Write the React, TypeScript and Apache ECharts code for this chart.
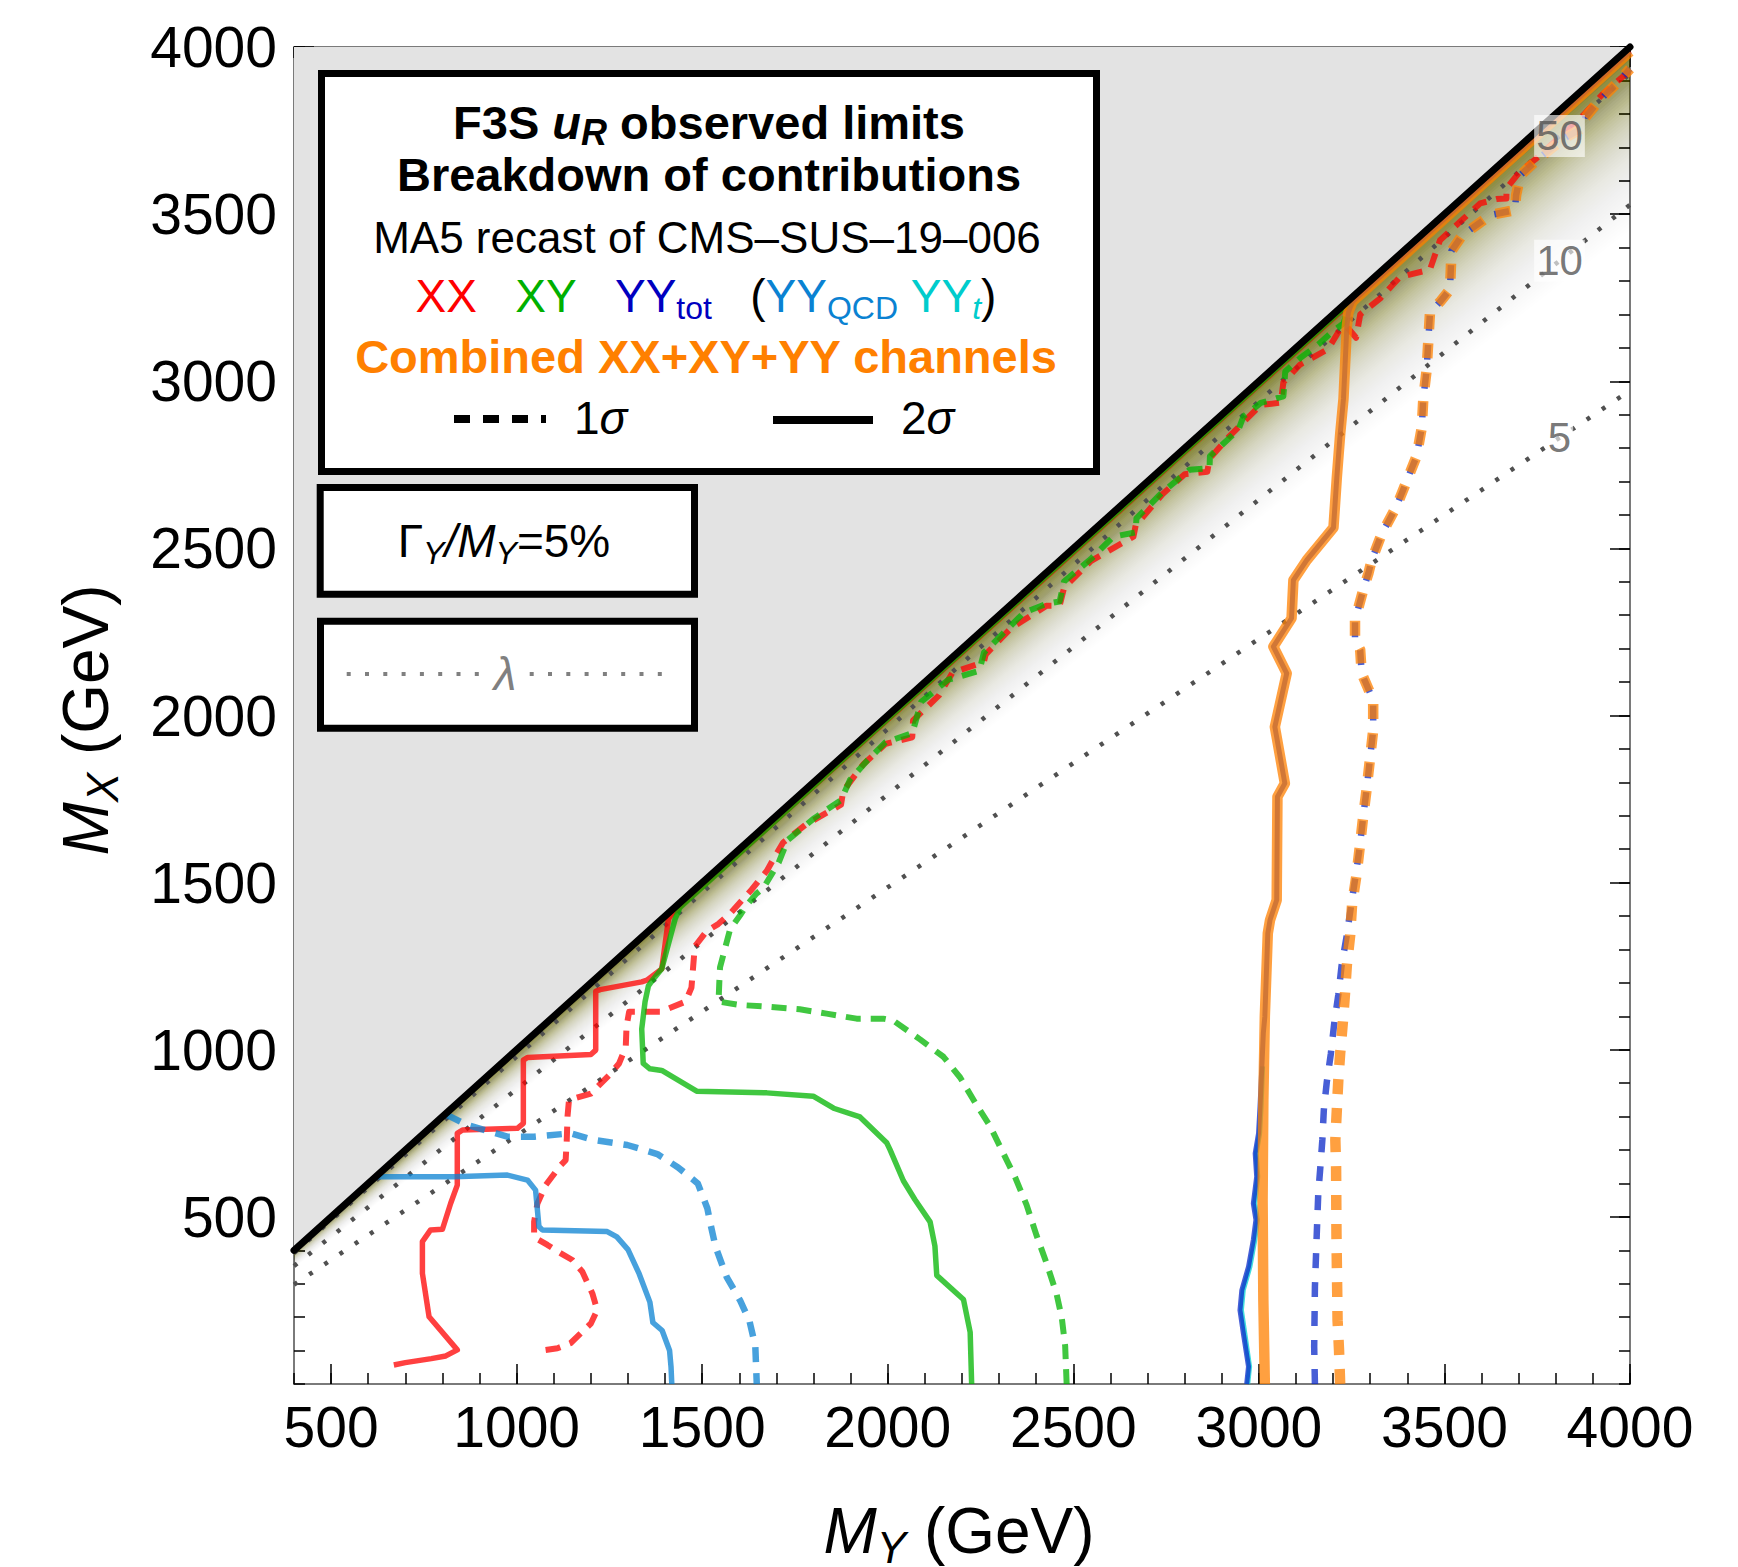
import React, { useEffect, useRef } from "react";
import * as echarts from "echarts";

const FONT = "Liberation Sans";

// ---------- axes ----------
const xMajorTicks = [500, 1000, 1500, 2000, 2500, 3000, 3500, 4000];
const yMajorTicks = [500, 1000, 1500, 2000, 2500, 3000, 3500, 4000];

// ---------- lambda contours (M_X = r * M_Y) ----------
const lambdaNames = ["50", "10", "5"];
const lambdaRatios = [0.98, 0.882, 0.743];
const lambdaLabelMY = 3810;

// ---------- shading profile near the diagonal ----------
const shadeProfileR = [1.0, 0.99, 0.98, 0.97, 0.96, 0.95, 0.94, 0.93, 0.92, 0.91, 0.9, 0.89, 0.88, 0.87, 0.86];
const shadeProfileA = [0.8, 0.66, 0.54, 0.44, 0.35, 0.28, 0.22, 0.17, 0.125, 0.09, 0.06, 0.038, 0.02, 0.008, 0];

// ---------- contours [M_Y, M_X] ----------
const xxSolid = [
  [669, 57], [700, 64], [735, 70], [770, 76], [809, 84], [840, 102], [764, 201], [746, 331], [746, 426],
  [768, 461], [800, 463], [822, 540], [840, 595], [840, 750], [854, 760], [1002, 765], [1018, 780],
  [1018, 969], [1029, 977], [1200, 986], [1213, 999], [1213, 1175], [1225, 1180], [1337, 1203],
  [1351, 1208], [1391, 1242], [1409, 1391], [1418, 1406], [2000, 1988], [2500, 2488], [3000, 2988],
  [3500, 3488], [4000, 3988],
];
const xxDashed = [
  [1078, 102], [1110, 107], [1145, 122], [1173, 152], [1200, 181], [1217, 221], [1204, 271], [1177, 336],
  [1150, 371], [1119, 391], [1083, 416], [1047, 439], [1047, 485], [1056, 540], [1078, 595], [1119, 655],
  [1132, 670], [1135, 730], [1137, 800], [1141, 850], [1200, 869], [1249, 924], [1276, 959], [1294, 1009],
  [1296, 1069], [1303, 1114], [1388, 1114], [1455, 1144], [1471, 1186], [1480, 1309], [1512, 1355],
  [1543, 1376], [1575, 1407], [1633, 1479], [1674, 1535], [1692, 1571], [1718, 1620], [1778, 1673],
  [1874, 1733], [1880, 1774], [1934, 1854], [1994, 1915], [2066, 1935], [2068, 1985], [2138, 2060],
  [2174, 2128], [2259, 2160], [2264, 2183], [2331, 2260], [2427, 2328], [2463, 2328], [2475, 2382],
  [2547, 2462], [2662, 2535], [2668, 2569], [2740, 2662], [2800, 2722], [2861, 2729], [2867, 2769],
  [2921, 2836], [3005, 2929], [3059, 2936], [3066, 2997], [3111, 3050], [3187, 3097], [3219, 3156],
  [3237, 3163], [3262, 3130], [3273, 3200], [3327, 3248], [3380, 3312], [3461, 3334], [3488, 3422],
  [3542, 3477], [3596, 3532], [3640, 3545], [3667, 3547], [3667, 3577], [3703, 3627], [3748, 3667],
  [3874, 3796], [3928, 3861], [4000, 3930],
];
const xySolid = [
  [2226, 0], [2222, 155], [2204, 253], [2132, 325], [2127, 413], [2114, 485], [2073, 552], [2042, 608],
  [2006, 701], [1997, 722], [1925, 799], [1854, 825], [1799, 861], [1674, 871], [1485, 876], [1391, 938],
  [1359, 943], [1341, 959], [1337, 1062], [1346, 1144], [1355, 1191], [1368, 1211], [1391, 1242],
  [1427, 1391], [1440, 1426], [2000, 1990], [2500, 2490], [3000, 2990], [3250, 3240],
];
const xyDashed = [
  [2482, 0], [2478, 114], [2469, 197], [2455, 269], [2428, 361], [2401, 444], [2374, 536], [2343, 619],
  [2311, 691], [2275, 773], [2239, 835], [2195, 917], [2150, 979], [2087, 1031], [2015, 1087], [1988, 1093],
  [1916, 1093], [1835, 1108], [1763, 1121], [1674, 1129], [1602, 1134], [1544, 1144], [1546, 1200],
  [1548, 1247], [1575, 1360], [1602, 1402], [1620, 1433], [1646, 1467], [1665, 1484], [1706, 1560],
  [1730, 1627], [1802, 1693], [1874, 1747], [1898, 1807], [1946, 1867], [1994, 1920], [2066, 1947],
  [2090, 2041], [2163, 2107], [2247, 2134], [2259, 2188], [2313, 2248], [2367, 2308], [2427, 2334],
  [2463, 2341], [2475, 2401], [2547, 2468], [2608, 2535], [2668, 2548], [2670, 2590], [2740, 2668],
  [2813, 2735], [2867, 2740], [2868, 2776], [2945, 2855], [2958, 2894], [3005, 2935], [3066, 2955],
  [3071, 3029], [3111, 3069], [3160, 3110], [3200, 3150], [3228, 3173], [3245, 3232],
];
const yyQcdSolid = [
  [625, 620], [831, 620], [975, 625], [1029, 610], [1051, 580], [1060, 471], [1069, 461], [1244, 456],
  [1270, 440], [1300, 402], [1330, 330], [1359, 245], [1367, 184], [1392, 160], [1412, 100], [1416, 50],
  [1418, 0],
];
const yyQcdDashed = [
  [812, 805], [867, 775], [975, 740], [1047, 740], [1145, 750], [1208, 730], [1298, 715], [1379, 688],
  [1435, 648], [1488, 600], [1503, 557], [1514, 525], [1521, 485], [1536, 410], [1566, 320], [1602, 250],
  [1627, 190], [1643, 114], [1647, 0],
];
const yyTopSolid = [
  [2970, 0], [2975, 52], [2962, 152], [2953, 221], [2958, 281], [2976, 351], [2989, 431], [2996, 491],
  [2989, 540], [2997, 620], [2993, 690], [3002, 750], [3006, 830], [3010, 950],
];
const yyTotSolid = [
  [2967, 0], [2972, 52], [2958, 152], [2949, 221], [2954, 281], [2972, 351], [2985, 431], [2992, 491],
  [2985, 540], [2994, 620], [2990, 690], [2999, 750], [3003, 830], [3008, 950], [3012, 1050], [3016, 1099],
  [3024, 1348], [3030, 1388], [3048, 1448], [3050, 1757], [3070, 1797], [3043, 1966], [3075, 2126],
  [3039, 2206], [3088, 2291], [3093, 2405], [3129, 2465], [3201, 2562], [3210, 2712], [3219, 2841],
  [3228, 2948], [3237, 3163], [3241, 3205], [3252, 3238], [3400, 3386], [3600, 3586], [4000, 3986],
];
const yyTotDashed = [
  [3151, 0], [3149, 112], [3151, 291], [3156, 451], [3160, 570], [3165, 640], [3171, 730], [3175, 820],
  [3183, 904], [3194, 989], [3203, 1079], [3214, 1164], [3223, 1253], [3237, 1343], [3248, 1428],
  [3261, 1523], [3272, 1608], [3281, 1697], [3290, 1777], [3299, 1867], [3308, 1956], [3308, 2046],
  [3277, 2126], [3273, 2196], [3259, 2226], [3259, 2285], [3281, 2375], [3295, 2425], [3304, 2465],
  [3330, 2541], [3371, 2626], [3398, 2701], [3425, 2776], [3439, 2862], [3443, 2948], [3452, 3034],
  [3457, 3130], [3461, 3205], [3490, 3240], [3515, 3275], [3519, 3390], [3548, 3437], [3590, 3470],
  [3623, 3497], [3690, 3512], [3693, 3556], [3704, 3616], [3758, 3671], [3820, 3725], [3875, 3760],
  [3880, 3790], [3910, 3831], [3973, 3901], [4000, 3935],
];
const combSolid = [
  [3016, 0], [3012, 251], [3010, 550], [3012, 850], [3016, 1099], [3024, 1348], [3030, 1388], [3048, 1448],
  [3050, 1757], [3070, 1797], [3043, 1966], [3075, 2126], [3039, 2206], [3088, 2291], [3093, 2405],
  [3129, 2465], [3201, 2562], [3210, 2712], [3219, 2841], [3228, 2948], [3237, 3163], [3241, 3205],
  [3252, 3238], [3400, 3386], [3600, 3586], [4000, 3986],
];
const combDashed = [
  [3219, 0], [3216, 100], [3212, 191], [3209, 451], [3208, 650], [3206, 730], [3210, 820], [3214, 909],
  [3219, 989], [3226, 1079], [3232, 1168], [3237, 1253], [3246, 1343], [3251, 1433], [3263, 1523],
  [3272, 1608], [3281, 1697], [3290, 1777], [3299, 1867], [3308, 1956], [3308, 2046], [3277, 2126],
  [3273, 2196], [3259, 2226], [3259, 2285], [3281, 2375], [3295, 2425], [3304, 2465], [3330, 2541],
  [3371, 2626], [3398, 2701], [3425, 2776], [3439, 2862], [3443, 2948], [3452, 3034], [3457, 3130],
  [3461, 3205], [3490, 3240], [3515, 3275], [3519, 3390], [3548, 3437], [3590, 3470], [3623, 3497],
  [3690, 3512], [3693, 3556], [3704, 3616], [3758, 3671], [3820, 3725], [3875, 3760], [3880, 3790],
  [3910, 3831], [3973, 3901], [4000, 3935],
];

// ---------- colours ----------
const C_XX = "#ff0000";
const C_XY = "#00b400";
const C_TOT = "#0a28c8";
const C_QCD = "#0a82d2";
const C_TOP = "#00d2d2";
const C_COMB = "#ff8000";

// ---------- shading wedges (rendering helper) ----------
function interpShade(r: number) {
  for (let k = 0; k < shadeProfileR.length - 1; k++) {
    const r0 = shadeProfileR[k], r1 = shadeProfileR[k + 1];
    if (r <= r0 && r >= r1) {
      const t = (r0 - r) / (r0 - r1);
      return shadeProfileA[k] + t * (shadeProfileA[k + 1] - shadeProfileA[k]);
    }
  }
  return 0;
}
function buildShadeWedges() {
  const step = 0.0025;
  const rMin = shadeProfileR[shadeProfileR.length - 1];
  const n = Math.round((1 - rMin) / step);
  const targets: number[] = [];
  for (let j = 0; j < n; j++) targets.push(interpShade(1 - (j + 0.5) * step));
  const wedges: number[][] = [];
  for (let j = 0; j < n; j++) {
    const A = targets[j];
    const An = j + 1 < n ? targets[j + 1] : 0;
    const a = 1 - (1 - A) / (1 - An);
    wedges.push([1 - (j + 1) * step, Math.max(0, a)]);
  }
  return wedges;
}

function contour(data: number[][], color: string, width: number, dash: any, z = 4) {
  return {
    type: "line",
    data,
    showSymbol: false,
    symbol: "none",
    silent: true,
    z,
    xAxisIndex: 0,
    yAxisIndex: 0,
    lineStyle: { color, width, type: dash, opacity: 0.75, cap: "butt", join: "round" },
  };
}

function buildOption() {
  const tickLine = { color: "#000", width: 1.5 };
  const frame = { show: true, onZero: false, lineStyle: { color: "#7a7a7a", width: 2 } };
  const noLine = { show: false, onZero: false };
  const baseX = { type: "value", min: 400, max: 4000, interval: 100, splitLine: { show: false }, gridIndex: 0 };
  const baseY = { type: "value", min: 0, max: 4000, interval: 100, splitLine: { show: false }, gridIndex: 0 };
  const labelStyle = { fontSize: 57, fontFamily: FONT, color: "#000" };

  const lambdaLines = lambdaRatios.map((r) => ({
    type: "line",
    data: [[400, 400 * r], [4000, 4000 * r]],
    showSymbol: false,
    symbol: "none",
    silent: true,
    z: 3,
    lineStyle: { color: "#505050", width: 4.5, type: [4, 14.3], cap: "butt" },
  }));

  const N = { fontFamily: FONT, fontSize: 46, lineHeight: 56, fill: "#000" };
  const SUB = { fontFamily: FONT, fontSize: 32, lineHeight: 32, verticalAlign: "bottom" };
  const BLD = { fontFamily: FONT, fontSize: 47, fontWeight: "bold", lineHeight: 56, fill: "#000" };

  const graphic: any[] = [
    // box 1
    { type: "rect", z: 90, shape: { x: 321.5, y: 73.5, width: 775, height: 398 }, style: { fill: "#fff", stroke: "#000", lineWidth: 7 } },
    {
      type: "text", z: 100, x: 709, y: 122,
      style: {
        text: "{b|F3S }{bi|u}{bis|R}{b| observed limits}",
        align: "center", verticalAlign: "middle", fontFamily: FONT, fontSize: 47, fill: "#000",
        rich: {
          b: BLD,
          bi: { ...BLD, fontStyle: "italic" },
          bis: { fontFamily: FONT, fontSize: 36, fontWeight: "bold", fontStyle: "italic", lineHeight: 32, verticalAlign: "bottom", fill: "#000" },
        },
      },
    },
    {
      type: "text", z: 100, x: 709, y: 174,
      style: { text: "Breakdown of contributions", align: "center", verticalAlign: "middle", fontFamily: FONT, fontSize: 47, fontWeight: "bold", fill: "#000" },
    },
    {
      type: "text", z: 100, x: 707, y: 237,
      style: { text: "MA5 recast of CMS\u2013SUS\u201319\u2013006", align: "center", verticalAlign: "middle", fontFamily: FONT, fontSize: 44, fill: "#000" },
    },
    {
      type: "text", z: 100, x: 706, y: 296,
      style: {
        text: "{r|XX}{k|   }{g|XY}{k|   }{b|YY}{bs|tot}{k|   (}{q|YY}{qs|QCD}{k| }{c|YY}{cs|t}{k|)}",
        align: "center", verticalAlign: "middle", fontFamily: FONT, fontSize: 46, fill: "#000",
        rich: {
          k: N,
          r: { ...N, fill: C_XX },
          g: { ...N, fill: "#00b000" },
          b: { ...N, fill: "#0000c0" },
          bs: { ...SUB, fill: "#0000c0" },
          q: { ...N, fill: "#0a82d2" },
          qs: { ...SUB, fill: "#0a82d2" },
          c: { ...N, fill: "#00cccc" },
          cs: { ...SUB, fontStyle: "italic", fill: "#00cccc" },
        },
      },
    },
    {
      type: "text", z: 100, x: 706, y: 356,
      style: { text: "Combined XX+XY+YY channels", align: "center", verticalAlign: "middle", fontFamily: FONT, fontSize: 47, fontWeight: "bold", fill: C_COMB },
    },
    { type: "line", z: 100, shape: { x1: 454, y1: 419, x2: 546, y2: 419 }, style: { stroke: "#000", lineWidth: 8, lineDash: [16, 13] } },
    {
      type: "text", z: 100, x: 574, y: 418,
      style: { text: "{n|1}{i|\u03c3}", align: "left", verticalAlign: "middle", fontFamily: FONT, fontSize: 46, fill: "#000", rich: { n: N, i: { ...N, fontStyle: "italic" } } },
    },
    { type: "line", z: 100, shape: { x1: 773, y1: 420, x2: 873, y2: 420 }, style: { stroke: "#000", lineWidth: 8 } },
    {
      type: "text", z: 100, x: 901, y: 418,
      style: { text: "{n|2}{i|\u03c3}", align: "left", verticalAlign: "middle", fontFamily: FONT, fontSize: 46, fill: "#000", rich: { n: N, i: { ...N, fontStyle: "italic" } } },
    },
    // box 2
    { type: "rect", z: 90, shape: { x: 320.2, y: 487.5, width: 374.3, height: 106.7 }, style: { fill: "#fff", stroke: "#000", lineWidth: 7 } },
    {
      type: "text", z: 100, x: 504, y: 541,
      style: {
        text: "{n|\u0393}{s|Y}{i|/M}{s|Y}{n|=5%}",
        align: "center", verticalAlign: "middle", fontFamily: FONT, fontSize: 46, fill: "#000",
        rich: { n: N, i: { ...N, fontStyle: "italic" }, s: { ...SUB, fontStyle: "italic", fill: "#000" } },
      },
    },
    // box 3
    { type: "rect", z: 90, shape: { x: 320.5, y: 621.2, width: 374, height: 107 }, style: { fill: "#fff", stroke: "#000", lineWidth: 7 } },
    { type: "line", z: 100, shape: { x1: 346.7, y1: 674, x2: 665, y2: 674 }, style: { stroke: "#808080", lineWidth: 4, lineDash: [4, 14.3] } },
    {
      type: "text", z: 101, x: 505, y: 674,
      style: { text: "\u03bb", align: "center", verticalAlign: "middle", fontFamily: FONT, fontSize: 46, fontStyle: "italic", fill: "#808080", backgroundColor: "#fff", padding: [0, 6] },
    },
    // axis titles
    {
      type: "text", z: 100, x: 959, y: 1531,
      style: {
        text: "{i|M}{s|Y}{n| (GeV)}", align: "center", verticalAlign: "middle", fontFamily: FONT, fontSize: 64, fill: "#000",
        rich: {
          i: { fontFamily: FONT, fontSize: 64, fontStyle: "italic", lineHeight: 76, fill: "#000" },
          s: { fontFamily: FONT, fontSize: 44, fontStyle: "italic", lineHeight: 44, verticalAlign: "bottom", fill: "#000" },
          n: { fontFamily: FONT, fontSize: 64, lineHeight: 76, fill: "#000" },
        },
      },
    },
    {
      type: "text", z: 100, x: 86, y: 720, rotation: Math.PI / 2,
      style: {
        text: "{i|M}{s|X}{n| (GeV)}", align: "center", verticalAlign: "middle", fontFamily: FONT, fontSize: 64, fill: "#000",
        rich: {
          i: { fontFamily: FONT, fontSize: 64, fontStyle: "italic", lineHeight: 76, fill: "#000" },
          s: { fontFamily: FONT, fontSize: 44, fontStyle: "italic", lineHeight: 44, verticalAlign: "bottom", fill: "#000" },
          n: { fontFamily: FONT, fontSize: 64, lineHeight: 76, fill: "#000" },
        },
      },
    },
  ];

  return {
    animation: false,
    backgroundColor: "#fff",
    textStyle: { fontFamily: FONT },
    grid: { left: 294, top: 47, width: 1336, height: 1337, containLabel: false, outerBoundsMode: "none" },
    xAxis: [
      {
        ...baseX, position: "bottom", axisLine: frame,
        axisTick: { show: true, inside: true, length: 11, lineStyle: tickLine },
        axisLabel: { show: true, margin: 14, ...labelStyle, formatter: (v: number) => (Math.round(v) % 500 === 0 && v >= 500 ? String(Math.round(v)) : "") },
      },
      { ...baseX, position: "bottom", axisLine: noLine, axisTick: { show: true, inside: true, length: 20, lineStyle: tickLine, customValues: xMajorTicks }, axisLabel: { show: false } },
      { ...baseX, position: "top", axisLine: frame, axisTick: { show: true, inside: true, length: 11, lineStyle: tickLine }, axisLabel: { show: false } },
      { ...baseX, position: "top", axisLine: noLine, axisTick: { show: true, inside: true, length: 20, lineStyle: tickLine, customValues: xMajorTicks }, axisLabel: { show: false } },
    ],
    yAxis: [
      {
        ...baseY, position: "left", axisLine: frame,
        axisTick: { show: true, inside: true, length: 11, lineStyle: tickLine },
        axisLabel: { show: true, margin: 17, ...labelStyle, formatter: (v: number) => (Math.round(v) % 500 === 0 && v > 0 ? String(Math.round(v)) : "") },
      },
      { ...baseY, position: "left", axisLine: noLine, axisTick: { show: true, inside: true, length: 20, lineStyle: tickLine, customValues: yMajorTicks }, axisLabel: { show: false } },
      { ...baseY, position: "right", axisLine: frame, axisTick: { show: true, inside: true, length: 11, lineStyle: tickLine }, axisLabel: { show: false } },
      { ...baseY, position: "right", axisLine: noLine, axisTick: { show: true, inside: true, length: 20, lineStyle: tickLine, customValues: yMajorTicks }, axisLabel: { show: false } },
    ],
    series: [
      {
        type: "custom",
        silent: true,
        z: 1,
        data: buildShadeWedges(),
        renderItem: (_p: any, api: any) => {
          const r = api.value(0);
          const a = api.value(1);
          const pts = [[400, 400], [4000, 4000], [4000, 4000 * r], [400, 400 * r]].map((p) => api.coord(p));
          return { type: "polygon", shape: { points: pts }, style: { fill: `rgba(118,120,0,${a})` } };
        },
      },
      {
        type: "custom",
        silent: true,
        z: 2,
        data: [[0, 0]],
        renderItem: (_p: any, api: any) => {
          const pts = [[400, 400], [400, 4000], [4000, 4000]].map((p) => api.coord(p));
          return { type: "polygon", shape: { points: pts }, style: { fill: "#e3e3e3" } };
        },
      },
      ...lambdaLines,
      contour(xxSolid, C_XX, 5.5, "solid"),
      contour(xxDashed, C_XX, 6, [15, 10]),
      contour(xySolid, C_XY, 5.5, "solid"),
      contour(xyDashed, C_XY, 6, [15, 10]),
      contour(yyQcdSolid, C_QCD, 5.5, "solid"),
      contour(yyQcdDashed, C_QCD, 6.5, [15, 11]),
      contour(yyTopSolid, C_TOP, 5, "solid"),
      contour(yyTotSolid, C_TOT, 5, "solid"),
      contour(yyTotDashed, C_TOT, 6.5, [15, 14]),
      contour(combSolid, C_COMB, 10.5, "solid"),
      contour(combDashed, C_COMB, 10.5, [15, 14]),
      {
        type: "line",
        data: [[400, 400], [4000, 4000]],
        showSymbol: false,
        symbol: "none",
        silent: true,
        clip: false,
        z: 5,
        lineStyle: { color: "#000", width: 7, cap: "round" },
      },
      {
        type: "scatter",
        silent: true,
        z: 6,
        symbolSize: 1,
        itemStyle: { color: "rgba(0,0,0,0)" },
        data: lambdaRatios.map((r, i) => ({ name: lambdaNames[i], value: [lambdaLabelMY, r * lambdaLabelMY] })),
        label: {
          show: true,
          position: "inside",
          formatter: "{b}",
          fontFamily: FONT,
          fontSize: 42,
          color: "#555",
          backgroundColor: "rgba(255,255,255,0.8)",
          padding: [0, 2],
        },
      },
    ],
    graphic,
  };
}

export default function App() {
  const ref = useRef<HTMLDivElement>(null);
  useEffect(() => {
    document.body.style.margin = "0";
    document.body.style.overflow = "hidden";
    const chart = echarts.init(ref.current as HTMLDivElement, undefined, { renderer: "svg" });
    chart.setOption(buildOption() as any);
    return () => chart.dispose();
  }, []);
  return <div ref={ref} style={{ width: 1738, height: 1567 }} />;
}
